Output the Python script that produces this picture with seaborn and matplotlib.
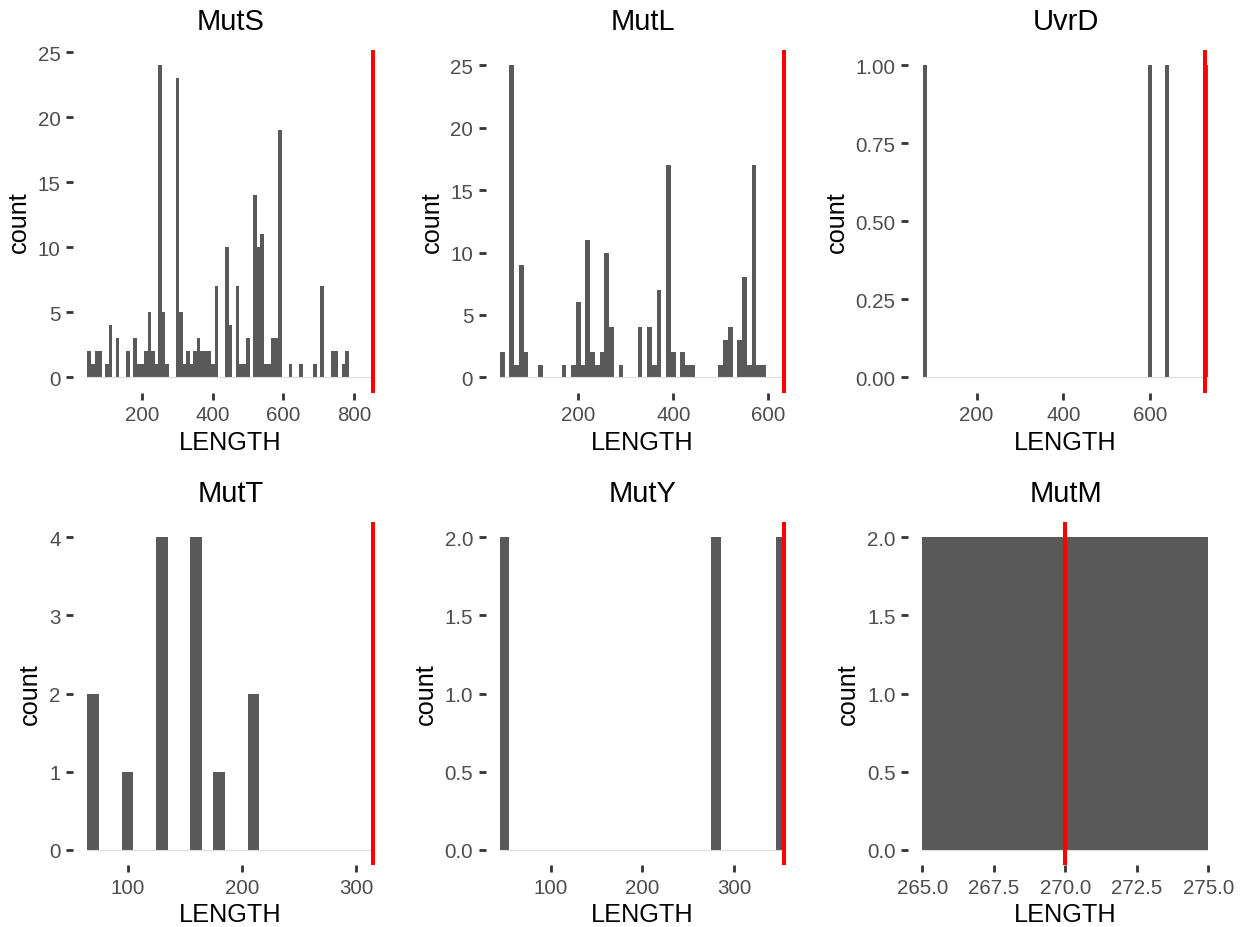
import numpy as np
import pandas as pd
import matplotlib
matplotlib.use("Agg")
import matplotlib.pyplot as plt
import seaborn as sns

# ---------------- data ----------------
BINWIDTH = 10

# dense histogram counts (binwidth 10), first bin's left edge
muts_start = 45
muts_counts = [2, 1, 2, 2, 0, 1, 4, 0, 3, 0,
               0, 2, 0, 3, 1, 1, 2, 5, 2, 1,
               24, 5, 1, 0, 0, 23, 5, 1, 2, 1,
               2, 3, 2, 2, 2, 1, 7, 0, 0, 10,
               4, 0, 7, 1, 1, 3, 0, 14, 10, 11,
               1, 1, 3, 3, 19, 0, 0, 1, 0, 0,
               1, 0, 0, 0, 1, 0, 7, 0, 0, 2,
               2, 0, 1, 2]
mutl_start = 35
mutl_counts = [2, 0, 25, 1, 9, 2, 0, 0, 1, 0,
               0, 0, 0, 1, 0, 1, 6, 1, 11, 2,
               1, 2, 10, 4, 0, 1, 0, 0, 0, 4,
               0, 4, 1, 7, 0, 17, 2, 0, 2, 1,
               1, 0, 0, 0, 0, 0, 1, 3, 4, 0,
               3, 8, 1, 17, 1, 1]

# sparse panels: bin centres (LENGTH) and counts
uvrd_length = [80, 600, 640, 730]
uvrd_counts = [1, 1, 1, 1]
mutt_length = [70, 100, 130, 160, 180, 210]
mutt_counts = [2, 1, 4, 4, 1, 2]
muty_length = [50, 280, 350]
muty_counts = [2, 2, 2]
mutm_length = [270]
mutm_counts = [2]

# reference lengths (red lines)
ref_length = {"MutS": 855, "MutL": 634, "UvrD": 728,
              "MutT": 315, "MutY": 354, "MutM": 270}

panel_names = ["MutS", "MutL", "UvrD", "MutT", "MutY", "MutM"]

x_ticks = {"MutS": [200, 400, 600, 800], "MutL": [200, 400, 600],
           "UvrD": [200, 400, 600], "MutT": [100, 200, 300],
           "MutY": [100, 200, 300], "MutM": [265.0, 267.5, 270.0, 272.5, 275.0]}
y_ticks = {"MutS": [0, 5, 10, 15, 20, 25], "MutL": [0, 5, 10, 15, 20, 25],
           "UvrD": [0.00, 0.25, 0.50, 0.75, 1.00], "MutT": [0, 1, 2, 3, 4],
           "MutY": [0.0, 0.5, 1.0, 1.5, 2.0], "MutM": [0.0, 0.5, 1.0, 1.5, 2.0]}
x_fmt = {"MutS": "{:.0f}", "MutL": "{:.0f}", "UvrD": "{:.0f}", "MutT": "{:.0f}",
         "MutY": "{:.0f}", "MutM": "{:.1f}"}
y_fmt = {"MutS": "{:.0f}", "MutL": "{:.0f}", "UvrD": "{:.2f}", "MutT": "{:.0f}",
         "MutY": "{:.1f}", "MutM": "{:.1f}"}


def dense(start, counts):
    centers = [start + BINWIDTH / 2 + BINWIDTH * i for i in range(len(counts))]
    return centers, counts


panel_data = {
    "MutS": dense(muts_start, muts_counts),
    "MutL": dense(mutl_start, mutl_counts),
    "UvrD": (uvrd_length, uvrd_counts),
    "MutT": (mutt_length, mutt_counts),
    "MutY": (muty_length, muty_counts),
    "MutM": (mutm_length, mutm_counts),
}

# ---------------- style ----------------
sns.set_theme(style="white")
plt.rcParams["font.family"] = ["Liberation Sans", "DejaVu Sans"]

BAR = "#595959"
TICKTXT = "#4D4D4D"
TICKCOL = "#333333"

W, H = 1246, 928
fig = plt.figure(figsize=(W / 100, H / 100), dpi=100)

cols = [(73.2, 387.7), (485.7, 799.2), (908.2, 1222.8)]
rows = [(50.7, 393.9), (522.7, 866.3)]

for idx, name in enumerate(panel_names):
    r, c = divmod(idx, 3)
    x0, x1 = cols[c]
    y0, y1 = rows[r]
    ax = fig.add_axes([x0 / W, 1 - y1 / H, (x1 - x0) / W, (y1 - y0) / H])

    centers, counts = panel_data[name]
    df = pd.DataFrame({"LENGTH": centers, "n": counts})
    vline = ref_length[name]
    first = min(centers) - BINWIDTH / 2
    last = max(max(centers) + BINWIDTH / 2,
               first + BINWIDTH * max(1, int(np.ceil((vline - first) / BINWIDTH))))
    edges = [float(e) for e in np.arange(first, last + BINWIDTH / 2, BINWIDTH)]

    sns.histplot(data=df, x="LENGTH", weights="n", bins=edges, ax=ax,
                 color=BAR, alpha=1, linewidth=0)

    # zero baseline of empty bins
    ax.hlines(0, first, last, color="#DCDCDC", lw=0.8, zorder=1)
    ax.axvline(vline, color="#FF0000", lw=2.9, zorder=5)

    xr = last - first
    ax.set_xlim(first - 0.05 * xr, last + 0.05 * xr)
    ymax = max(counts)
    ax.set_ylim(-0.05 * ymax, ymax * 1.05)

    ax.set_xticks(x_ticks[name])
    ax.set_xticklabels([x_fmt[name].format(v) for v in x_ticks[name]])
    ax.set_yticks(y_ticks[name])
    ax.set_yticklabels([y_fmt[name].format(v) for v in y_ticks[name]])

    for s in ax.spines.values():
        s.set_visible(False)
    ax.grid(False)
    ax.tick_params(axis="both", which="major", length=5.0, width=2.0,
                   color=TICKCOL, labelcolor=TICKTXT, labelsize=14.8,
                   bottom=True, left=True, direction="out")
    ax.tick_params(axis="x", pad=4.0)
    ax.tick_params(axis="y", pad=4.0)

    ax.set_title(name, fontsize=21, color="black", pad=15)
    ax.set_xlabel("LENGTH", fontsize=18.2, color="black", labelpad=4)
    ax.set_ylabel("count", fontsize=18.2, color="black", labelpad=5)

fig.savefig("out.png", dpi=100, facecolor="white")
